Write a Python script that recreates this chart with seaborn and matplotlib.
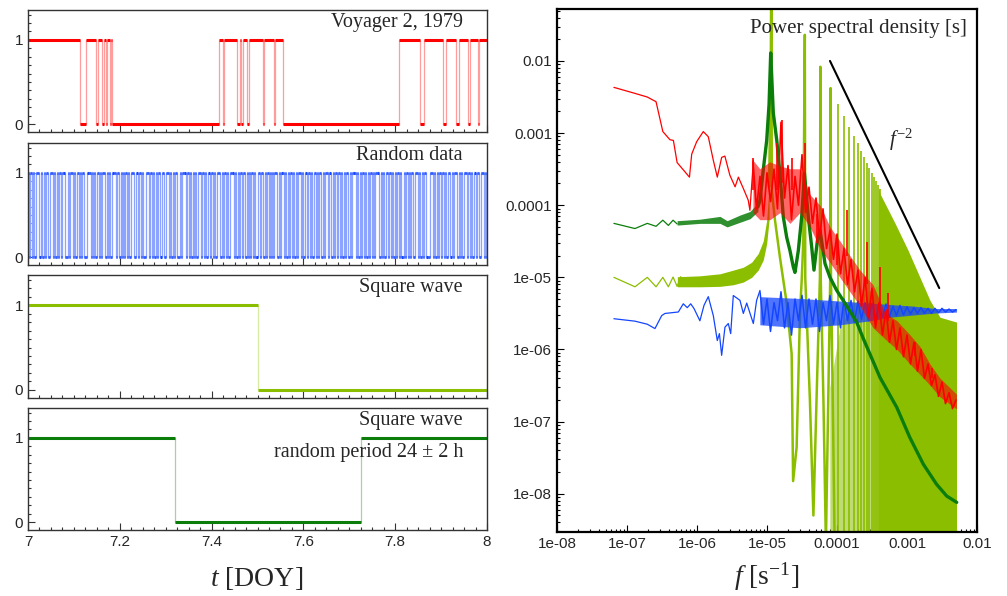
import numpy as np
import pandas as pd
import seaborn as sns
import matplotlib
matplotlib.use("Agg")
import matplotlib.pyplot as plt
from matplotlib.ticker import FixedLocator, FixedFormatter, MultipleLocator, LogLocator, NullFormatter

# ---------- time series, DOY 7-8 ----------
voy_t = [7.0, 7.113, 7.127, 7.149, 7.153, 7.162, 7.165, 7.169, 7.172, 7.178, 7.180, 7.182,
         7.416, 7.425, 7.427, 7.456, 7.462, 7.465, 7.468, 7.478, 7.481, 7.513, 7.515, 7.537,
         7.539, 7.556, 7.809, 7.853, 7.863, 7.904, 7.911, 7.932, 7.940, 7.958, 7.964, 7.980,
         7.983, 8.0]
voy_v = [1, 0, 1, 0, 1, 0, 1, 0, 1, 0, 1, 0,
         1, 0, 1, 0, 1, 0, 1, 0, 1, 0, 1, 0, 1, 0,
         1, 0, 1, 0, 1, 0, 1, 0, 1, 0, 1, 1]

rand_bits = ("1011010011101001011001110100101101100010111010011010110"
             "0011101010011010111001010011101100101011010011100101101"
             "0001110110100101101100111010010110001011101101001010011"
             "1011010010110100111001011010011101001011011001010110100"
             "1101100101101010111001011010010110100101110100101101001"
             "1010110010111010010110110100101100101110100101101001011"
             "0101110010100110110100101101001011010110011101001011000"
             "1110100101101101001101011100101001110110100101100111010")

sq_t = [7.0, 7.5, 8.0]
sq_v = [1, 0, 1]
rsq_t = [7.0, 7.32, 7.725, 8.0]
rsq_v = [1, 0, 1, 1]

# ---------- power spectral density ----------
# Voyager (red), low-frequency part
red_f = [6.5e-8, 1.3e-7, 1.95e-7, 2.6e-7, 3.25e-7, 4.1e-7, 4.6e-7, 5.2e-7, 7.8e-7, 8.4e-7,
         9.9e-7, 1.23e-6, 1.45e-6, 1.71e-6, 1.95e-6, 2.25e-6, 2.5e-6, 2.95e-6, 3.5e-6, 3.9e-6,
         4.6e-6, 5.4e-6, 5.7e-6, 6.4e-6]
red_p = [4.3e-3, 3.55e-3, 3.16e-3, 2.72e-3, 1.05e-3, 8.1e-4, 7.9e-4, 3.9e-4, 2.45e-4, 5.1e-4,
         7.6e-4, 1.05e-3, 8.9e-4, 4.2e-4, 2.45e-4, 4.6e-4, 4.8e-4, 2.6e-4, 1.8e-4, 2.45e-4,
         1.7e-4, 1.17e-4, 8.5e-5, 4.2e-4]
# noisy part: band edges plus a trace read along a log10 f grid
red_band_f = [6.3e-6, 7.9e-6, 1.1e-5, 1.53e-5, 2.13e-5, 2.96e-5, 4.11e-5, 5.72e-5, 7.94e-5, 1.1e-4,
              1.53e-4, 2.13e-4, 3.27e-4, 4.85e-4, 7.2e-4, 1.1e-3, 1.53e-3, 2.13e-3, 2.96e-3, 5.1e-3]
red_band_lo = [7.9e-5, 6.3e-5, 6.3e-5, 7.9e-5, 5.6e-5, 7.9e-5, 5.0e-5, 2.5e-5, 1.6e-5, 1.0e-5,
               6.3e-6, 4.0e-6, 2.0e-6, 1.4e-6, 1.0e-6, 6.3e-7, 4.5e-7, 3.2e-7, 2.2e-7, 1.5e-7]
red_band_hi = [4.2e-4, 3.2e-4, 4.0e-4, 3.5e-4, 3.2e-4, 3.2e-4, 1.4e-4, 1.0e-4, 5.0e-5, 3.2e-5,
               2.0e-5, 1.26e-5, 7.9e-6, 3.2e-6, 2.5e-6, 1.6e-6, 1.1e-6, 6.3e-7, 4.0e-7, 2.4e-7]
noise_log10f = [-5.2, -5.15, -5.1, -5.05, -5.0, -4.95, -4.9, -4.85, -4.8, -4.75,
                -4.7, -4.65, -4.6, -4.55, -4.5, -4.45, -4.4, -4.35, -4.3, -4.25,
                -4.2, -4.15, -4.1, -4.05, -4.0, -3.95, -3.9, -3.85, -3.8, -3.75,
                -3.7, -3.65, -3.6, -3.55, -3.5, -3.45, -3.4, -3.35, -3.3, -3.25,
                -3.2, -3.15, -3.1, -3.05, -3.0, -2.95, -2.9, -2.85, -2.8, -2.75,
                -2.7, -2.65, -2.6, -2.55, -2.5, -2.45, -2.4, -2.35, -2.3]
red_noise_log10p = [-3.4, -4.05, -3.6, -4.15, -3.55, -3.95, -3.5, -4.05, -2.85, -3.9,
                    -3.45, -4.2, -3.6, -4.0, -3.3, -4.1, -3.75, -4.25, -3.9, -4.45,
                    -4.05, -4.6, -4.35, -4.75, -4.4, -4.95, -4.6, -5.1, -4.75, -5.2,
                    -4.9, -5.4, -5.0, -5.55, -5.15, -5.7, -5.35, -5.8, -5.45, -5.9,
                    -5.6, -6.0, -5.7, -6.1, -5.8, -6.2, -5.9, -6.3, -6.0, -6.4,
                    -6.2, -6.5, -6.35, -6.65, -6.45, -6.75, -6.6, -6.82, -6.7]
red_spk_f = [6.3e-6, 1.38e-5, 1.62e-5, 2.25e-5, 3.5e-5, 5.1e-5, 9.9e-5, 1.38e-4, 2.65e-4,
             4.1e-4, 5.4e-4, 1.3e-3, 2.3e-3]
red_spk_lo = [1.6e-4, 1.6e-4, 2.0e-4, 1.6e-4, 1.6e-4, 3.0e-5, 1.5e-5, 2.0e-5, 8.0e-6,
              4.0e-6, 2.5e-6, 8.0e-7, 4.0e-7]
red_spk_hi = [4.5e-4, 7.2e-4, 1.5e-3, 4.5e-4, 7.2e-4, 7.6e-5, 3.1e-5, 8.5e-5, 3.1e-5,
              1.4e-5, 6.0e-6, 1.26e-6, 5.5e-7]

# random data (blue)
blue_f = [6.5e-8, 1.3e-7, 1.95e-7, 2.51e-7, 3.13e-7, 3.49e-7, 5.41e-7, 6.37e-7, 7.26e-7, 8.13e-7,
          9.06e-7, 1.10e-6, 1.26e-6, 1.45e-6, 1.71e-6, 1.95e-6, 2.09e-6, 2.25e-6, 2.51e-6, 2.80e-6,
          3.03e-6, 3.30e-6, 4.11e-6, 4.59e-6, 5.13e-6, 6.38e-6, 7.11e-6, 7.94e-6]
blue_p = [2.67e-6, 2.47e-6, 2.24e-6, 1.95e-6, 2.95e-6, 3.16e-6, 3.31e-6, 4.3e-6, 3.8e-6, 4.3e-6,
          3.7e-6, 2.5e-6, 4.1e-6, 5.4e-6, 2.95e-6, 1.33e-6, 1.66e-6, 8.3e-7, 2.04e-6, 2.29e-6,
          1.66e-6, 5.6e-6, 4.8e-6, 3.16e-6, 4.4e-6, 2.29e-6, 4.8e-6, 6.6e-6]
blue_band_f = [7.9e-6, 2.96e-5, 1.1e-4, 2.96e-4, 5.7e-4, 1.22e-3, 2.5e-3, 5.1e-3]
blue_band_lo = [2.2e-6, 2.0e-6, 2.2e-6, 2.5e-6, 2.8e-6, 3.0e-6, 3.2e-6, 3.3e-6]
blue_band_hi = [5.4e-6, 5.1e-6, 4.7e-6, 4.4e-6, 4.2e-6, 4.0e-6, 3.7e-6, 3.7e-6]
blue_noise_log10p = [-5.2, -5.65, -5.3, -5.75, -5.35, -5.6, -5.2, -5.7, -5.35, -5.8,
                     -5.3, -5.6, -5.25, -5.7, -5.3, -5.65, -5.3, -5.75, -5.35, -5.6,
                     -5.25, -5.65, -5.35, -5.7, -5.3, -5.6, -5.32, -5.62, -5.33, -5.58,
                     -5.35, -5.6, -5.36, -5.57, -5.38, -5.55, -5.37, -5.55, -5.4, -5.53,
                     -5.39, -5.52, -5.41, -5.51, -5.42, -5.5, -5.42, -5.5, -5.43, -5.5,
                     -5.43, -5.49, -5.43, -5.48, -5.44, -5.48, -5.45]

# square wave with random period (dark green)
dg_f = [6.5e-8, 1.3e-7, 1.95e-7, 2.6e-7, 3.25e-7, 3.9e-7, 4.55e-7, 5.2e-7]
dg_p = [5.6e-5, 4.75e-5, 5.6e-5, 5.1e-5, 6.2e-5, 5.25e-5, 6.2e-5, 5.5e-5]
dg_band_f = [5.2e-7, 1.1e-6, 2.13e-6, 2.69e-6, 4.11e-6, 5.72e-6, 7.43e-6]
dg_band_lo = [5.3e-5, 5.6e-5, 5.6e-5, 5.0e-5, 5.8e-5, 6.5e-5, 8.2e-5]
dg_band_hi = [6.1e-5, 6.4e-5, 7.0e-5, 6.1e-5, 7.3e-5, 8.2e-5, 1.08e-4]
dg_tail_f = [7.43e-6, 7.94e-6, 8.85e-6, 9.9e-6, 1.07e-5, 1.13e-5, 1.19e-5, 1.23e-5, 1.38e-5, 1.53e-5,
             1.71e-5, 1.91e-5, 2.13e-5, 2.38e-5, 2.51e-5, 2.80e-5, 3.13e-5, 3.43e-5, 3.89e-5, 4.35e-5,
             4.69e-5, 5.24e-5, 5.72e-5, 6.74e-5, 7.94e-5, 9.9e-5, 1.38e-4, 1.91e-4, 2.38e-4, 4.11e-4,
             7.13e-4, 1.10e-3, 1.71e-3, 2.65e-3, 3.69e-3, 5.13e-3]
dg_tail_p = [9.5e-5, 1.17e-4, 3.1e-4, 7.9e-4, 2.5e-3, 1.29e-2, 4.0e-3, 1.9e-3, 7.9e-4, 2.75e-4,
             6.9e-5, 3.6e-5, 2.34e-5, 1.38e-5, 1.17e-5, 2.34e-5, 6.9e-5, 2.75e-4, 6.9e-5, 2.63e-5,
             1.26e-5, 3.2e-5, 4.5e-5, 1.55e-5, 1.0e-5, 6.6e-6, 4.0e-6, 2.4e-6, 1.41e-6, 4.1e-7,
             1.58e-7, 6.0e-8, 2.57e-8, 1.35e-8, 9.3e-9, 7.6e-9]

# square wave (light green)
lg_f = [6.5e-8, 1.3e-7, 1.95e-7, 2.6e-7, 3.25e-7, 3.9e-7, 4.55e-7, 5.2e-7, 5.85e-7, 6.5e-7]
lg_p = [1.0e-5, 7.4e-6, 1.0e-5, 7.4e-6, 1.0e-5, 7.4e-6, 1.01e-5, 7.5e-6, 1.02e-5, 7.6e-6]
lg_band_f = [5.24e-7, 1.1e-6, 2.13e-6, 3.3e-6, 4.58e-6, 6.04e-6, 7.5e-6, 8.85e-6, 9.9e-6, 1.07e-5]
lg_band_hi = [1.02e-5, 1.05e-5, 1.12e-5, 1.26e-5, 1.38e-5, 1.62e-5, 2.14e-5, 3.2e-5, 6.2e-5, 1.8e-4]
lg_band_lo = [7.4e-6, 7.4e-6, 7.5e-6, 7.9e-6, 8.6e-6, 1.0e-5, 1.26e-5, 1.74e-5, 2.95e-5, 6.2e-5]
lg_lobe_f = [1.07e-5, 1.13e-5, 1.157e-5, 1.17e-5, 1.30e-5, 1.53e-5, 1.91e-5, 2.25e-5, 2.36e-5, 2.65e-5,
             2.8e-5, 2.96e-5, 3.13e-5, 3.3e-5, 3.47e-5, 3.52e-5, 4.1e-5, 4.6e-5, 5.1e-5, 5.7e-5,
             5.79e-5, 5.85e-5, 6.4e-5, 6.94e-5, 7.5e-5, 8.0e-5, 8.1e-5, 8.2e-5, 8.7e-5, 9.25e-5]
lg_lobe_p = [1.8e-4, 5e-3, 0.5, 1.6e-4, 6.2e-5, 1.9e-5, 4.4e-6, 8.7e-7, 1.5e-8, 4.4e-8,
             3.7e-7, 3.2e-6, 9.1e-6, 3.2e-5, 2.3e-2, 1e-5, 2e-7, 5e-9, 2e-7, 1e-5,
             8.3e-3, 1e-5, 2e-7, 2e-9, 2e-7, 1e-5, 4.2e-3, 1e-5, 2e-7, 2e-9]
lg_harm_f = [1.04e-4, 1.27e-4, 1.50e-4, 1.74e-4, 1.97e-4, 2.20e-4, 2.43e-4, 2.66e-4, 2.89e-4,
             3.12e-4, 3.36e-4, 3.59e-4, 3.82e-4, 4.05e-4]
lg_harm_p = [2.5e-3, 1.7e-3, 1.22e-3, 9.2e-4, 7.2e-4, 5.7e-4, 4.7e-4, 3.9e-4, 3.3e-4,
             2.8e-4, 2.45e-4, 2.15e-4, 1.9e-4, 1.7e-4]
lg_haze_f = [7.9e-5, 1.1e-4, 1.6e-4, 2.5e-4, 4.1e-4]
lg_haze_top = [3e-7, 2e-6, 4e-6, 6e-6, 8e-6]
lg_wedge_f = [3.9e-4, 4.11e-4, 6.76e-4, 1.03e-3, 2.13e-3, 2.96e-3, 5.1e-3]
lg_wedge_top = [1.8e-4, 1.45e-4, 5.6e-5, 2.4e-5, 4.8e-6, 2.8e-6, 2.4e-6]

slope_f = [7.94e-5, 2.89e-3]
slope_p = [1.0e-2, 7.1e-6]

xticks = [1e-8, 1e-7, 1e-6, 1e-5, 1e-4, 1e-3, 1e-2]
xtick_labels = ["1e-08", "1e-07", "1e-06", "1e-05", "0.0001", "0.001", "0.01"]
ytick_labels = ["1e-08", "1e-07", "1e-06", "1e-05", "0.0001", "0.001", "0.01"]

RED, RED_PALE = "#ff0000", "#ff9c9c"
BLUE, BLUE_PALE = "#1446ff", "#8da4ff"
LG = "#8cbe00"
DG = "#0b7d0b"

sns.set_theme(style="ticks")
plt.rcParams["font.family"] = ["Liberation Sans", "DejaVu Sans"]
plt.rcParams["mathtext.fontset"] = "custom"
plt.rcParams["mathtext.rm"] = "Liberation Serif"
plt.rcParams["mathtext.it"] = "Liberation Serif:italic"

W, H = 1007, 596
fig = plt.figure(figsize=(W / 100, H / 100), dpi=100)


def px_axes(x0, y0, x1, y1):
    return fig.add_axes([x0 / W, 1 - y1 / H, (x1 - x0) / W, (y1 - y0) / H])


def step_panel(ax, t, v, strong, pale, lw_h=2.2):
    sns.lineplot(x=t, y=v, ax=ax, drawstyle="steps-post", color=pale, lw=0.9,
                 estimator=None, sort=False)
    ax.hlines(v[:-1], t[:-1], t[1:], color=strong, lw=lw_h)


panel_px = [(10, 132), (143, 265), (275, 398), (408, 530)]
axl = [px_axes(28, a, 487, b) for a, b in panel_px]

step_panel(axl[0], voy_t, voy_v, RED, RED_PALE)

bits = [int(c) for c in rand_bits]
edges = np.linspace(7.0, 8.0, len(bits) + 1)
step_panel(axl[1], list(edges), bits + [bits[-1]], BLUE, BLUE_PALE, lw_h=2.2)

step_panel(axl[2], sq_t, sq_v, LG, "#d6eaa0")
step_panel(axl[3], rsq_t, rsq_v, DG, "#a8d0a8")

titles = ["Voyager 2, 1979", "Random data", "Square wave", "Square wave"]
for i, ax in enumerate(axl):
    ax.set_xlim(7, 8)
    ax.set_ylim(-0.095, 1.355)
    ax.yaxis.set_major_locator(FixedLocator([0, 1]))
    ax.yaxis.set_major_formatter(FixedFormatter(["0", "1"]))
    ax.yaxis.set_minor_locator(MultipleLocator(0.1))
    ax.xaxis.set_major_locator(MultipleLocator(0.2))
    ax.xaxis.set_minor_locator(MultipleLocator(0.025))
    ax.tick_params(which="both", direction="in", top=False, right=False,
                   labelsize=11, color="#333333", width=0.8)
    ax.tick_params(which="major", length=5)
    ax.tick_params(which="minor", length=2.5)
    for s in ax.spines.values():
        s.set_linewidth(1.0)
        s.set_color("#333333")
    ax.set_xlabel("")
    ax.set_ylabel("")
    ax.text(1 - 24 / 459, 1 - 12 / 122, titles[i], transform=ax.transAxes, ha="right",
            va="center", family="Liberation Serif", fontsize=14.5)
    if i < 3:
        ax.tick_params(labelbottom=False)
axl[3].xaxis.set_major_formatter(FixedFormatter(["7", "7.2", "7.4", "7.6", "7.8", "8"]))
axl[3].xaxis.set_major_locator(FixedLocator([7, 7.2, 7.4, 7.6, 7.8, 8]))
axl[3].text(1 - 24 / 459, 1 - 44 / 122, "random period 24 ± 2 h", transform=axl[3].transAxes,
            ha="right", va="center", family="Liberation Serif", fontsize=14.5)

# ---------- PSD panel ----------
ax = px_axes(557, 9, 977, 532)
ax.set_xscale("log")
ax.set_yscale("log")
ybot = 10 ** -8.53
nf = 10 ** np.array(noise_log10f)

# square wave
sns.lineplot(x=lg_f, y=lg_p, ax=ax, color=LG, lw=0.9, estimator=None, sort=False, zorder=1)
ax.fill_between(lg_band_f, lg_band_lo, lg_band_hi, color=LG, lw=0, zorder=1)
sns.lineplot(x=lg_lobe_f, y=lg_lobe_p, ax=ax, color=LG, lw=1.8, estimator=None, sort=False, zorder=1)
ax.fill_between(lg_haze_f, ybot, lg_haze_top, color=LG, alpha=0.55, lw=0, zorder=1)
ax.vlines(lg_harm_f, ybot, lg_harm_p, color=LG, lw=1.2, zorder=1)
ax.fill_between(lg_wedge_f, ybot, lg_wedge_top, color=LG, lw=0, zorder=1)

# random data
sns.lineplot(x=blue_f, y=blue_p, ax=ax, color=BLUE, lw=0.9, estimator=None, sort=False, zorder=2)
ax.fill_between(blue_band_f, blue_band_lo, blue_band_hi, color=BLUE, alpha=0.75, lw=0, zorder=2)
sns.lineplot(x=nf[2:], y=10 ** np.array(blue_noise_log10p), ax=ax, color=BLUE, lw=1.1,
             estimator=None, sort=False, zorder=2)

# random-period square wave
sns.lineplot(x=dg_f, y=dg_p, ax=ax, color=DG, lw=0.9, estimator=None, sort=False, zorder=3)
ax.fill_between(dg_band_f, dg_band_lo, dg_band_hi, color=DG, alpha=0.85, lw=0, zorder=3)
sns.lineplot(x=dg_tail_f, y=dg_tail_p, ax=ax, color=DG, lw=2.4, estimator=None, sort=False, zorder=3)

# Voyager
sns.lineplot(x=red_f, y=red_p, ax=ax, color=RED, lw=0.9, estimator=None, sort=False, zorder=4)
ax.fill_between(red_band_f, red_band_lo, red_band_hi, color=RED, alpha=0.6, lw=0, zorder=4)
sns.lineplot(x=nf, y=10 ** np.array(red_noise_log10p), ax=ax, color=RED, lw=1.2,
             estimator=None, sort=False, zorder=4)
ax.vlines(red_spk_f, red_spk_lo, red_spk_hi, color=RED, lw=1.2, zorder=4)

# f^-2 guide
sns.lineplot(x=slope_f, y=slope_p, ax=ax, color="black", lw=1.5, estimator=None, sort=False, zorder=5)
ax.text(8.2e-4, 8.0e-4, "$f^{-2}$", ha="center", va="center", fontsize=15)

ax.set_xlim(1e-8, 1e-2)
ax.set_ylim(ybot, 10 ** -1.28)
ax.xaxis.set_major_locator(FixedLocator(xticks))
ax.xaxis.set_major_formatter(FixedFormatter(xtick_labels))
ax.yaxis.set_major_locator(FixedLocator(xticks))
ax.yaxis.set_major_formatter(FixedFormatter(ytick_labels))
ax.xaxis.set_minor_locator(LogLocator(base=10, subs=np.arange(2, 10), numticks=20))
ax.yaxis.set_minor_locator(LogLocator(base=10, subs=np.arange(2, 10), numticks=20))
ax.xaxis.set_minor_formatter(NullFormatter())
ax.yaxis.set_minor_formatter(NullFormatter())
ax.tick_params(which="both", direction="in", top=False, right=False, labelsize=11,
               color="black", width=0.8)
ax.tick_params(which="major", length=5)
ax.tick_params(which="minor", length=2.5)
for s in ax.spines.values():
    s.set_linewidth(1.6)
    s.set_color("black")
ax.set_xlabel("")
ax.set_ylabel("")
ax.text(1 - 10 / 420, 1 - 19 / 523, "Power spectral density [s]", transform=ax.transAxes,
        ha="right", va="center", family="Liberation Serif", fontsize=15)

fig.text(257 / W, 1 - 578 / H, "$t$ [DOY]", ha="center", va="center",
         family="Liberation Serif", fontsize=20)
fig.text(767 / W, 1 - 577 / H, "$f$ [s$^{-1}$]", ha="center", va="center",
         family="Liberation Serif", fontsize=20)

fig.savefig("out.png", dpi=100)
